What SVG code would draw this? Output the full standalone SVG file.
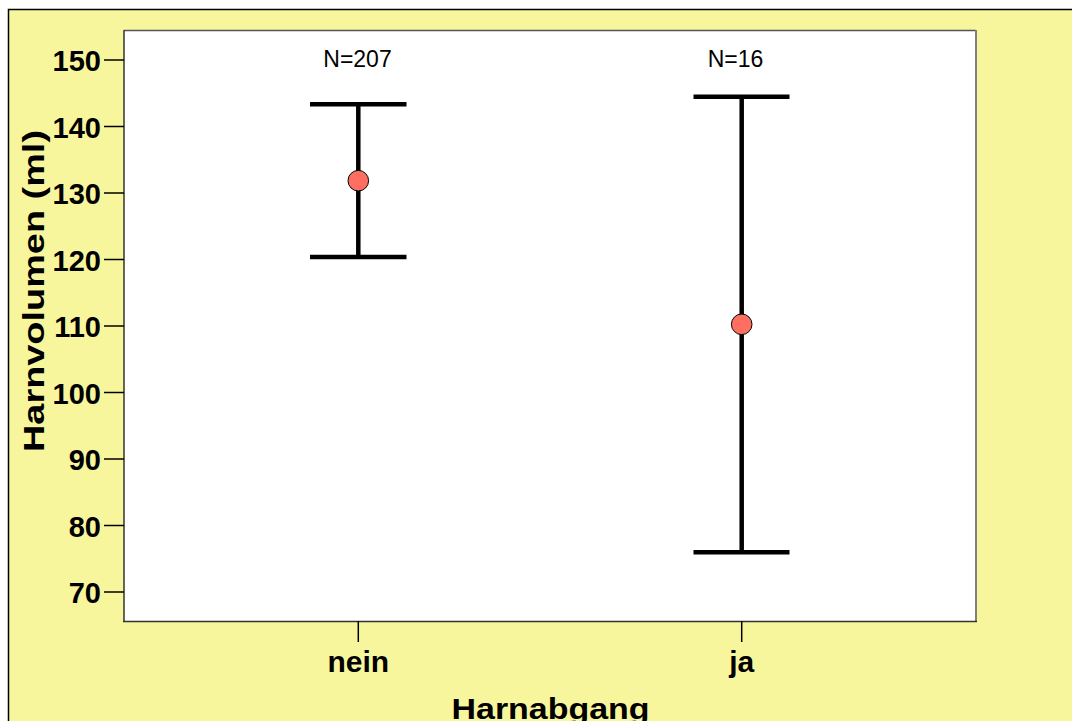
<svg xmlns="http://www.w3.org/2000/svg" width="1072" height="721" viewBox="0 0 1072 721">
<style>
.tick{stroke:#000;stroke-width:1.5}
.ylab{font-family:"Liberation Sans",Arial,sans-serif;font-weight:bold;font-size:29px;text-anchor:end;fill:#000}
.xlab{font-family:"Liberation Sans",Arial,sans-serif;font-weight:bold;font-size:30px;text-anchor:middle;fill:#000}
.nlab{font-family:"Liberation Sans",Arial,sans-serif;font-size:23px;text-anchor:middle;fill:#000}
.bar{stroke:#000;stroke-width:4.5;fill:none}
.dot{fill:#FF6F61;stroke:#000;stroke-width:1}
</style>
<rect x="0" y="0" width="1072" height="721" fill="#fff"/>
<rect x="8.5" y="9.5" width="1080" height="730" fill="#F8F69D" stroke="#000" stroke-width="1.5"/>
<g id="plot-area">
<rect x="124" y="30.5" width="852" height="591" fill="#fff"/>
<line x1="124" y1="30.5" x2="976" y2="30.5" stroke="#555" stroke-width="1.5"/>
<line x1="976" y1="30" x2="976" y2="622" stroke="#808080" stroke-width="2"/>
<line x1="124" y1="30" x2="124" y2="622" stroke="#333" stroke-width="1.5"/>
<line x1="123" y1="621.5" x2="977" y2="621.5" stroke="#333" stroke-width="1.5"/>
</g>
<g id="y-axis">
<line class="tick" x1="104" y1="60" x2="124" y2="60"/>
<line class="tick" x1="104" y1="126.5" x2="124" y2="126.5"/>
<line class="tick" x1="104" y1="193" x2="124" y2="193"/>
<line class="tick" x1="104" y1="259.5" x2="124" y2="259.5"/>
<line class="tick" x1="104" y1="326" x2="124" y2="326"/>
<line class="tick" x1="104" y1="392.5" x2="124" y2="392.5"/>
<line class="tick" x1="104" y1="459" x2="124" y2="459"/>
<line class="tick" x1="104" y1="525.5" x2="124" y2="525.5"/>
<line class="tick" x1="104" y1="592" x2="124" y2="592"/>
<text class="ylab" x="101" y="71">150</text>
<text class="ylab" x="101" y="137.5">140</text>
<text class="ylab" x="101" y="204">130</text>
<text class="ylab" x="101" y="270.5">120</text>
<text class="ylab" x="101" y="337">110</text>
<text class="ylab" x="101" y="403.5">100</text>
<text class="ylab" x="101" y="470">90</text>
<text class="ylab" x="101" y="536.5">80</text>
<text class="ylab" x="101" y="603">70</text>
<text font-family="'Liberation Sans',Arial,sans-serif" font-weight="bold" font-size="29px" text-anchor="middle" textLength="322" lengthAdjust="spacingAndGlyphs" transform="translate(43.5,291) rotate(-90)">Harnvolumen (ml)</text>
</g>
<g id="x-axis">
<line class="tick" x1="358.3" y1="621" x2="358.3" y2="642"/>
<line class="tick" x1="741.7" y1="621" x2="741.7" y2="642"/>
<text class="xlab" x="358.3" y="672">nein</text>
<text class="xlab" x="741.7" y="672">ja</text>
<text class="xlab" x="550.5" y="719" font-size="36px" textLength="198" lengthAdjust="spacingAndGlyphs">Harnabgang</text>
</g>
<g id="connectors">
<g id="bar-nein">
<line class="bar" x1="358.3" y1="104.3" x2="358.3" y2="257"/>
<line class="bar" x1="310" y1="104.3" x2="406.5" y2="104.3"/>
<line class="bar" x1="310" y1="257" x2="406.5" y2="257"/>
</g>
<g id="bar-ja">
<line class="bar" x1="741.7" y1="96.7" x2="741.7" y2="552.3"/>
<line class="bar" x1="693.5" y1="96.7" x2="789.5" y2="96.7"/>
<line class="bar" x1="693.5" y1="552.3" x2="789.5" y2="552.3"/>
</g>
</g>
<g id="node-nein">
<circle class="dot" cx="358.3" cy="180.7" r="10.3"/>
<text class="nlab" x="357.5" y="66.5">N=207</text>
</g>
<g id="node-ja">
<circle class="dot" cx="741.7" cy="324.3" r="10.3"/>
<text class="nlab" x="735.5" y="66.5">N=16</text>
</g>
</svg>
